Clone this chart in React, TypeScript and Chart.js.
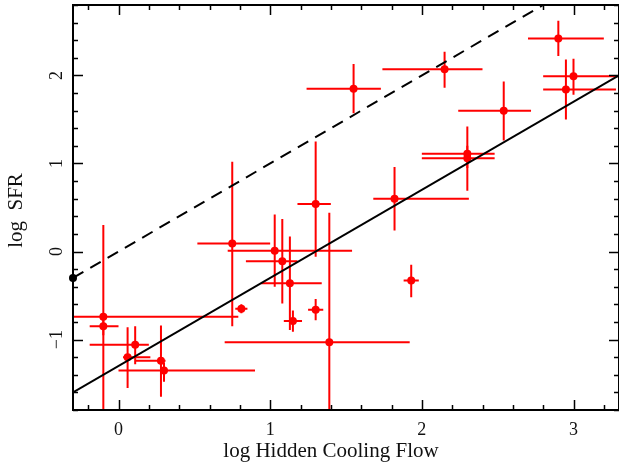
import React, { useEffect, useRef } from 'react';
import { Chart, registerables } from 'chart.js';

Chart.register(...registerables);

// Axis ranges and tick labels
const X_MIN = -0.3;
const X_MAX = 3.3;
const Y_MIN = -1.8;
const Y_MAX = 2.8;
const xMajorTicks = [0, 1, 2, 3];
const xTickLabels = ['0', '1', '2', '3'];
const yMajorTicks = [-1, 0, 1, 2];
const yTickLabels = ['\u22121', '0', '1', '2'];
const MINOR_STEP = 0.2;

// Data points (log hidden cooling flow, log SFR) with error-bar ends
const xVal = [-0.10, -0.10, 0.11, 0.06, 0.28, 0.30, 0.75, 0.81, 1.03, 1.08, 1.13, 1.15, 1.30, 1.30, 1.39, 1.93, 1.82, 2.30, 2.30, 2.54, 1.55, 2.15, 2.90, 3.00, 2.95];
const yVal = [-0.74, -0.85, -1.06, -1.20, -1.24, -1.35, 0.09, -0.65, 0.01, -0.11, -0.36, -0.79, -0.66, 0.54, -1.03, -0.33, 0.60, 1.11, 1.06, 1.60, 1.85, 2.07, 2.42, 1.99, 1.84];
const xLo = [-0.50, -0.19, -0.19, 0.03, 0.11, 0.00, 0.52, 0.77, 0.72, 0.84, 0.94, 1.09, 1.25, 1.18, 0.70, 1.88, 1.68, 2.00, 2.00, 2.24, 1.24, 1.74, 2.70, 2.80, 2.80];
const xHi = [0.79, 0.00, 0.20, 0.21, 0.31, 0.90, 1.00, 0.85, 1.54, 1.18, 1.34, 1.21, 1.35, 1.40, 1.92, 1.98, 2.31, 2.48, 2.48, 2.72, 1.73, 2.40, 3.20, 3.50, 3.28];
const yLo = [-2.00, -0.95, -1.28, -1.55, -1.65, -1.48, -0.85, -0.70, -0.40, -0.59, -0.89, -0.91, -0.78, -0.06, -2.00, -0.52, 0.24, 0.95, 0.69, 1.26, 1.57, 1.86, 2.22, 1.78, 1.50];
const yHi = [0.30, -0.75, -0.85, -0.86, -0.84, -1.26, 1.02, -0.60, 0.42, 0.37, 0.17, -0.67, -0.54, 1.25, 0.44, -0.15, 0.96, 1.42, 1.20, 1.93, 2.13, 2.27, 2.62, 2.19, 2.18];

// Reference lines
const solidLineX = [-0.3, 3.3];
const solidLineY = [-1.6, 2.0];
const dashedLineX = [-0.3, 2.8];
const dashedLineY = [-0.3, 2.8];

const RED = '#ff0000';
const FONT = '"Liberation Serif", "Times New Roman", serif';

const errorBarPlugin = {
  id: 'errorBars',
  beforeDatasetsDraw(chart: any) {
    const { ctx, chartArea: a, scales } = chart;
    const xs = scales.x;
    const ys = scales.y;
    ctx.save();
    ctx.beginPath();
    ctx.rect(a.left, a.top, a.right - a.left, a.bottom - a.top);
    ctx.clip();
    ctx.strokeStyle = RED;
    ctx.lineWidth = 2;
    for (let i = 0; i < xVal.length; i++) {
      const px = xs.getPixelForValue(xVal[i]);
      const py = ys.getPixelForValue(yVal[i]);
      ctx.beginPath();
      ctx.moveTo(xs.getPixelForValue(xLo[i]), py);
      ctx.lineTo(xs.getPixelForValue(xHi[i]), py);
      ctx.moveTo(px, ys.getPixelForValue(yLo[i]));
      ctx.lineTo(px, ys.getPixelForValue(yHi[i]));
      ctx.stroke();
    }
    ctx.restore();
  },
};

const framePlugin = {
  id: 'frameAxes',
  afterDraw(chart: any) {
    const { ctx, chartArea: a, scales } = chart;
    const xs = scales.x;
    const ys = scales.y;
    ctx.save();
    ctx.strokeStyle = '#000';
    ctx.lineWidth = 2;
    ctx.strokeRect(a.left, a.top, a.right - a.left, a.bottom - a.top);
    ctx.lineWidth = 1.5;
    // x ticks (bottom and top)
    for (let k = Math.ceil(X_MIN / MINOR_STEP - 1e-9); k * MINOR_STEP <= X_MAX + 1e-9; k++) {
      const v = k * MINOR_STEP;
      const major = Math.abs(v - Math.round(v)) < 1e-6;
      const len = major ? 10 : 5;
      const px = Math.round(xs.getPixelForValue(v)) + 0.5;
      ctx.beginPath();
      ctx.moveTo(px, a.bottom);
      ctx.lineTo(px, a.bottom - len);
      ctx.moveTo(px, a.top);
      ctx.lineTo(px, a.top + len);
      ctx.stroke();
    }
    // y ticks (left and right)
    for (let k = Math.ceil(Y_MIN / MINOR_STEP - 1e-9); k * MINOR_STEP <= Y_MAX + 1e-9; k++) {
      const v = k * MINOR_STEP;
      const major = Math.abs(v - Math.round(v)) < 1e-6;
      const len = major ? 10 : 5;
      const py = Math.round(ys.getPixelForValue(v)) + 0.5;
      ctx.beginPath();
      ctx.moveTo(a.left, py);
      ctx.lineTo(a.left + len, py);
      ctx.moveTo(a.right, py);
      ctx.lineTo(a.right - len, py);
      ctx.stroke();
    }
    // tick labels
    ctx.fillStyle = '#111';
    ctx.font = `18px ${FONT}`;
    ctx.textAlign = 'center';
    ctx.textBaseline = 'alphabetic';
    xMajorTicks.forEach((v, i) => {
      ctx.fillText(xTickLabels[i], xs.getPixelForValue(v), a.bottom + 24.5);
    });
    yMajorTicks.forEach((v, i) => {
      ctx.save();
      ctx.translate(a.left - 11, ys.getPixelForValue(v));
      ctx.rotate(-Math.PI / 2);
      ctx.fillText(yTickLabels[i], 0, 0);
      ctx.restore();
    });
    // axis titles
    ctx.font = `21px ${FONT}`;
    ctx.fillText('log Hidden Cooling Flow', (a.left + a.right) / 2 - 15, a.bottom + 46.5);
    ctx.save();
    ctx.translate(22, (a.top + a.bottom) / 2 + 3);
    ctx.rotate(-Math.PI / 2);
    ctx.fillText('log  SFR', 0, 0);
    ctx.restore();
    ctx.restore();
  },
};

export default function App() {
  const canvasRef = useRef<HTMLCanvasElement | null>(null);

  useEffect(() => {
    const canvas = canvasRef.current;
    if (!canvas) return;
    const chart = new Chart(canvas, {
      type: 'scatter',
      data: {
        datasets: [
          {
            type: 'line',
            label: 'dashed',
            data: dashedLineX.map((x, i) => ({ x, y: dashedLineY[i] })),
            borderColor: '#000',
            backgroundColor: '#000',
            borderWidth: 2,
            borderDash: [12, 8],
            pointRadius: [4, 0],
            pointBackgroundColor: '#000',
            pointBorderWidth: 0,
            clip: false,
          },
          {
            type: 'line',
            label: 'solid',
            data: solidLineX.map((x, i) => ({ x, y: solidLineY[i] })),
            borderColor: '#000',
            borderWidth: 2,
            pointRadius: 0,
          },
          {
            label: 'points',
            data: xVal.map((x, i) => ({ x, y: yVal[i] })),
            backgroundColor: RED,
            borderColor: RED,
            pointRadius: 4,
            pointBorderWidth: 0,
          },
        ],
      },
      options: {
        responsive: false,
        animation: false,
        devicePixelRatio: 1,
        layout: { autoPadding: false, padding: { top: 5, right: 0, left: 0, bottom: 0 } },
        plugins: { legend: { display: false }, tooltip: { enabled: false } },
        scales: {
          x: {
            type: 'linear',
            min: X_MIN,
            max: X_MAX,
            ticks: { display: false },
            grid: { display: false },
            border: { display: false },
            afterFit: (s: any) => { s.height = 54; },
          },
          y: {
            type: 'linear',
            min: Y_MIN,
            max: Y_MAX,
            ticks: { display: false },
            grid: { display: false },
            border: { display: false },
            afterFit: (s: any) => { s.width = 73; },
          },
        },
      },
      plugins: [errorBarPlugin, framePlugin],
    });
    return () => chart.destroy();
  }, []);

  return (
    <div style={{ position: 'fixed', left: 0, top: 0, width: 619, height: 464, background: '#fff' }}>
      <canvas ref={canvasRef} width={619} height={464} />
    </div>
  );
}
